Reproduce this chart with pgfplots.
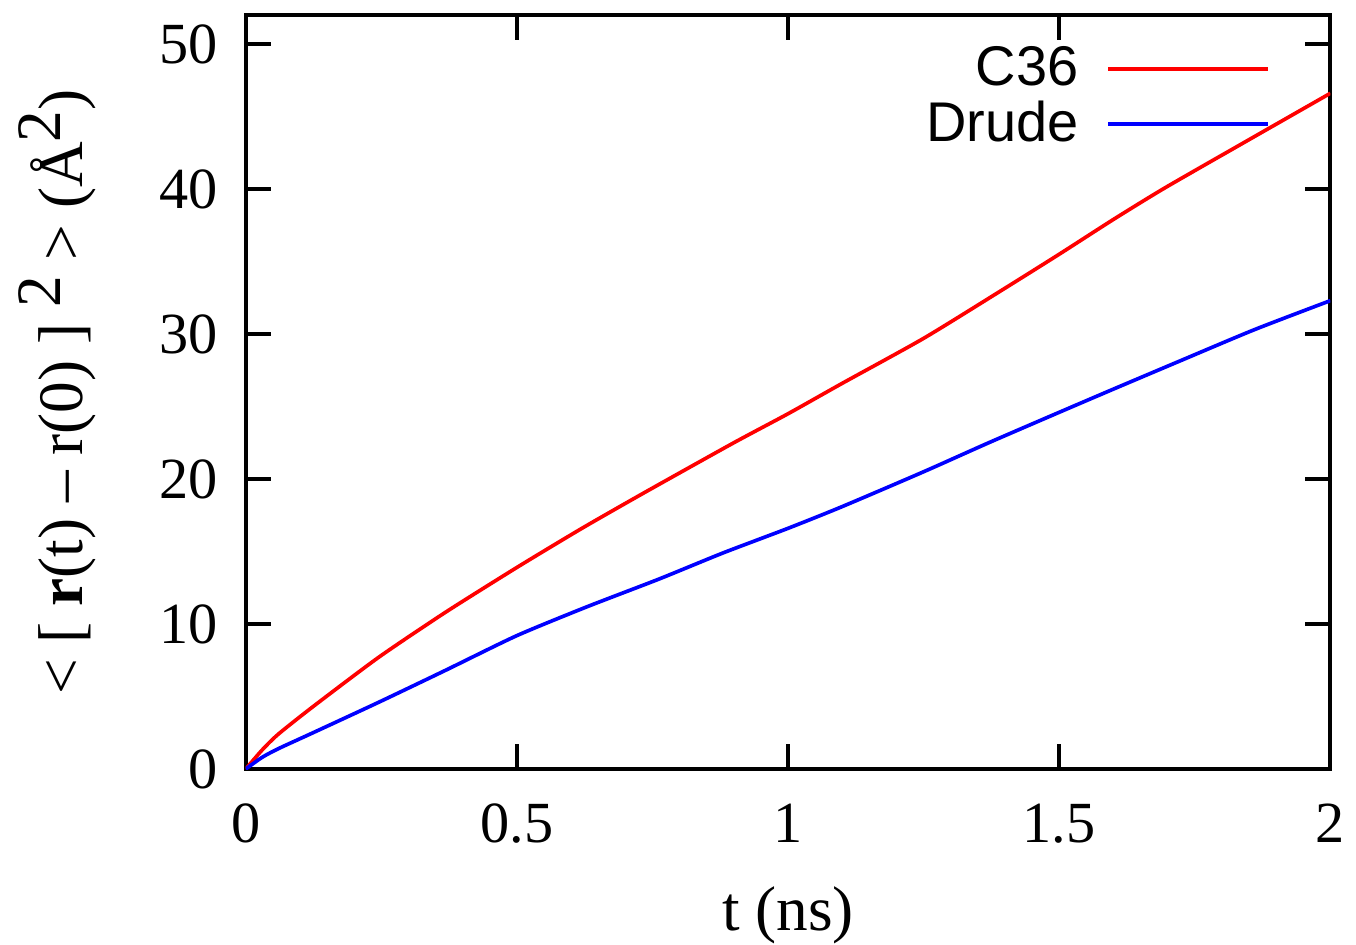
\documentclass[border=0pt]{standalone}
\usepackage{fontspec}
\setmainfont{Liberation Serif}
\newfontfamily\legendfont{Liberation Sans}
\usepackage{pgfplots}
\pgfplotsset{compat=1.18}

\begin{document}
\begin{tikzpicture}
  \begin{axis}[
    scale only axis,
    width=325.8pt, height=226.5pt,
    xmin=0, xmax=2, ymin=0, ymax=52,
    xtick={0,0.5,1,1.5,2},
    ytick={0,10,20,30,40,50},
    tick align=inside,
    major tick length=7.5pt,
    axis line style={line width=1.2pt},
    every tick/.style={black, line width=1.2pt},
    /pgf/number format/assume math mode=true,
    ticklabel style={font=\fontsize{17.5}{20}\selectfont},
    xticklabel style={yshift=-7pt},
    yticklabel style={xshift=-5pt},
    xlabel={t (ns)},
    ylabel={< [ \textbf{r}(t) – r(0) ] \raisebox{0.75ex}{2} > (Å\raisebox{0.75ex}{2})},
    label style={font=\fontsize{19}{21}\selectfont},
    xlabel style={inner sep=0pt, yshift=-9.5pt},
    ylabel style={yshift=12pt},
    legend plot pos=right,
    legend cell align=right,
    legend style={draw=none, fill=none, at={(0.945,0.9674)}, anchor=north east,
      font=\legendfont\fontsize{16.8}{19}\selectfont, row sep=-1pt, inner sep=0pt},
    legend image code/.code={\path[draw=none] (0pt,0pt) -- (7pt,0pt);
      \draw[#1] (7pt,0pt) -- (55pt,0pt);},
    every axis plot/.append style={line width=1.1pt, smooth, tension=0.4},
  ]
    \addplot[color=red] coordinates {
      (0,0) (0.03,1.3) (0.06,2.4) (0.124,4.3) (0.245,7.7) (0.368,10.8)
      (0.5,13.9) (0.62,16.6) (0.737,19.1) (0.9,22.5) (1.0,24.5) (1.1,26.6)
      (1.25,29.7) (1.389,32.9) (1.5,35.5) (1.6,37.9)
      (1.696,40.1) (1.85,43.4) (2.0,46.6)};
    \addlegendentry{C36}
    \addplot[color=blue] coordinates {
      (0,0) (0.03,0.8) (0.06,1.4) (0.124,2.5) (0.245,4.6) (0.368,6.8)
      (0.5,9.2) (0.63,11.2) (0.762,13.1) (0.88,14.9) (1.0,16.6) (1.1,18.1)
      (1.25,20.5) (1.37,22.5) (1.5,24.6) (1.6,26.2) (1.72,28.1) (1.86,30.3)
      (2.0,32.3)};
    \addlegendentry{Drude}
  \end{axis}
  \path (-73.8pt,-51.9pt) rectangle (333pt,231pt);
\end{tikzpicture}
\end{document}
